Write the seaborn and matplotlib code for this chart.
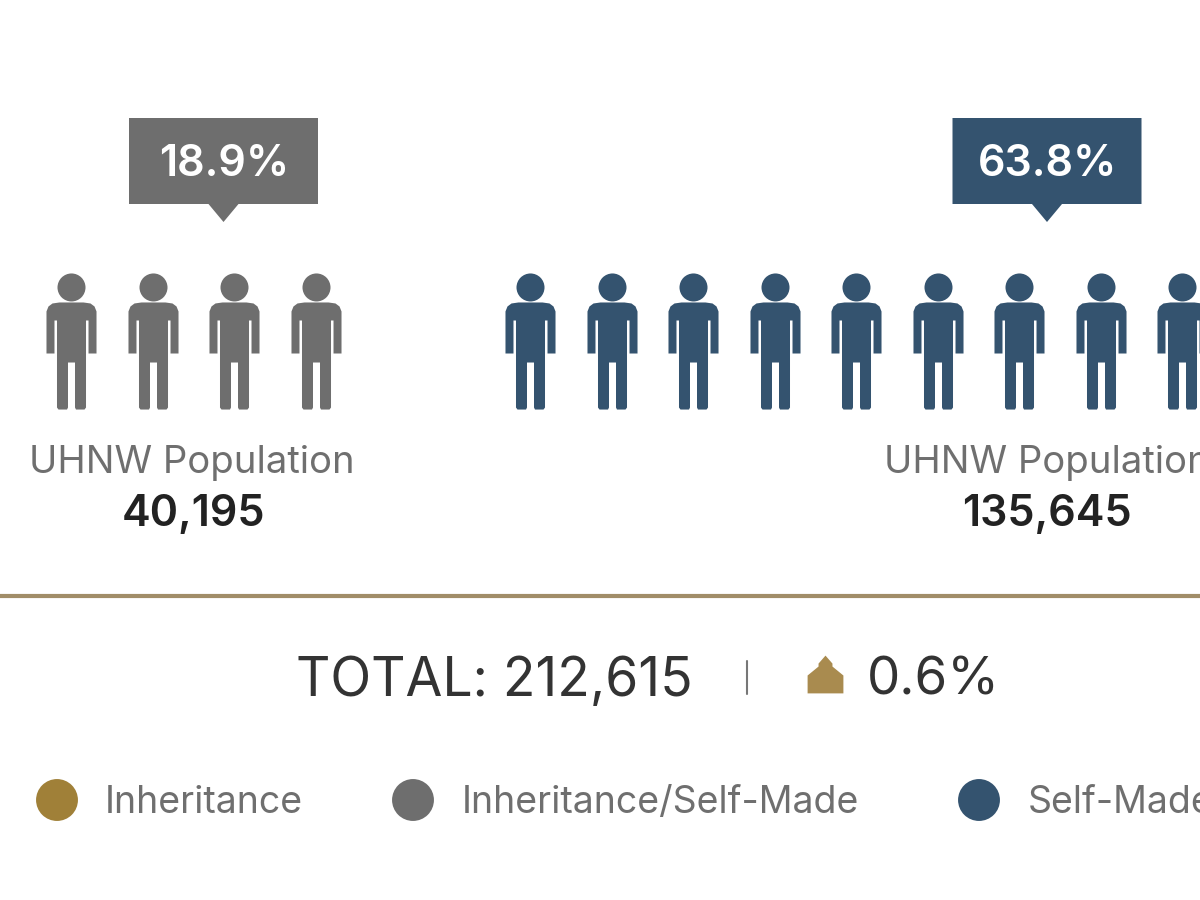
import numpy as np
import pandas as pd
import matplotlib.pyplot as plt
from matplotlib.path import Path
import seaborn as sns

# Datos del grafico
grupos = ["Inheritance/Self-Made", "Self-Made"]
porcentajes = ["18.9%", "63.8%"]
poblacion = ["40,195", "135,645"]
figuras = [4, 14]
colores = ["#6e6e6e", "#34536f"]
total_texto = "TOTAL: 212,615"
herencia_pct = "0.6%"
leyenda = ["Inheritance", "Inheritance/Self-Made", "Self-Made"]
leyenda_colores = ["#a08038", "#6e6e6e", "#34536f"]

sns.set_style("white")
plt.rcParams['font.family'] = ['Inter', 'DejaVu Sans']

# Figura de una persona como marcador
cuerpo = np.array([(-12,39),(12,39),(19,38),(23,35),(25,30),(25,-12),(17,-12),(17,21),(14.5,21),(14.5,-66),(13,-68),
                   (4.5,-68),(3.5,-66),(3.5,-21),(-3.5,-21),(-3.5,-66),(-4.5,-68),(-13,-68),(-14.5,-66),(-14.5,21),(-17,21),
                   (-17,-12),(-25,-12),(-25,30),(-23,35),(-19,38),(-12,39)], dtype=float)
cabeza = Path.circle((0, 54), 14)
persona = Path.make_compound_path(cabeza, Path(cuerpo, closed=True))

# Casa del total
casa = Path(np.array([(0,19),(7,11),(7,8),(18,-1),(18,-19),(-18,-19),(-18,-1),(-7,8),(-7,11),(0,19)], dtype=float), closed=True)

plt.figure(figsize=(12,9), dpi=100)
plt.axes([0,0,1,1])
plt.xlim(0,1200)
plt.ylim(900,0)
plt.axis('off')

### Grupos de personas
inicio = [71, 530]
centro = [223.5, 1047]
for i in range(len(grupos)):
    df = pd.DataFrame({'x': inicio[i] + 81.5*np.arange(figuras[i]), 'y': 341})
    sns.scatterplot(data=df, x='x', y='y', marker=persona, s=9600, color=colores[i], linewidth=0, legend=False)
    # Etiqueta de porcentaje
    plt.fill([centro[i]-94.5, centro[i]+94.5, centro[i]+94.5, centro[i]+15, centro[i], centro[i]-15, centro[i]-94.5],
             [118, 118, 204, 204, 222, 204, 204], color=colores[i], linewidth=0)
    plt.text(centro[i]+1, 164, porcentajes[i], color='white', fontsize=31, fontweight='semibold', ha='center', va='center')
    plt.text(centro[i]-31.5+[0,31.5][i], 463, "UHNW Population", color='#6f6f6f', fontsize=27.5, ha='center', va='center')
    plt.text(centro[i]-30.5+[0,30.5][i], 515, poblacion[i], color='#222222', fontsize=31, fontweight='semibold', ha='center', va='center')

# Linea de separacion
plt.plot([0,1200], [596,596], color='#a18d68', linewidth=3)

### Total
plt.text(494, 681, total_texto, color='#333333', fontsize=38.5, ha='center', va='center')
plt.plot([747,747], [661,694], color='#777777', linewidth=1.5)
sns.scatterplot(x=[825], y=[674], marker=casa, s=740, color='#a98b4f', linewidth=0, legend=False)
plt.text(933, 681, herencia_pct, color='#333333', fontsize=38, ha='center', va='center')

### Leyenda
df_leyenda = pd.DataFrame({'x': [57, 413, 979], 'y': 800, 'grupo': leyenda})
sns.scatterplot(data=df_leyenda, x='x', y='y', hue='grupo', palette=leyenda_colores, s=910, linewidth=0, legend=False)
plt.text(105, 803, leyenda[0], color='#6f6f6f', fontsize=27, va='center')
plt.text(462, 803, leyenda[1], color='#6f6f6f', fontsize=27, va='center')
plt.text(1028, 803, leyenda[2], color='#6f6f6f', fontsize=27, va='center')

plt.xlim(0,1200)
plt.ylim(900,0)
plt.savefig("out.png", dpi=100)
